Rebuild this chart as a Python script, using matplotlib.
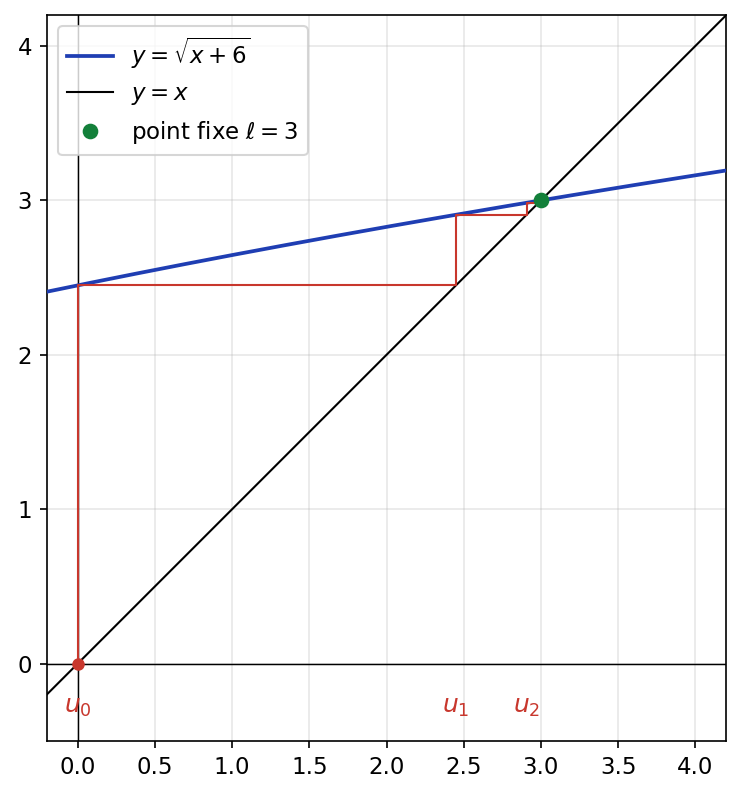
import numpy as np
import matplotlib
matplotlib.use("Agg")
import matplotlib.pyplot as plt

# Terms of the sequence u_{n+1} = sqrt(u_n + 6), u_0 = 0
u_values = [0.0, 2.449, 2.907, 2.984, 2.997]
u_labels = ["$u_0$", "$u_1$", "$u_2$"]
fixed_point = 3.0
x_range = [-0.2, 4.2]
y_range = [-0.5, 4.2]

fig = plt.figure(figsize=(741/150, 797/150), dpi=150)
ax = fig.add_axes([46/741, 1-741/797, (727-46)/741, (741-15)/797])

xs = np.linspace(x_range[0], x_range[1], 400)
ax.plot(xs, np.sqrt(xs + 6), color="#1f3eb3", lw=1.8, label=r"$y=\sqrt{x+6}$", zorder=3)
ax.plot(xs, xs, color="black", lw=1.0, label=r"$y=x$", zorder=3)

ax.axhline(0, color="black", lw=0.7, zorder=2)
ax.axvline(0, color="black", lw=0.7, zorder=2)

red = "#c8372d"
px, py = [u_values[0]], [0.0]
for i in range(len(u_values) - 1):
    px += [u_values[i], u_values[i + 1]]
    py += [u_values[i + 1], u_values[i + 1]]
ax.plot(px, py, color=red, lw=1.0, zorder=4)
ax.plot([u_values[0]], [0], "o", color=red, ms=5, zorder=5)

for lab, u in zip(u_labels, u_values):
    ax.text(u, -0.28, lab, color=red, ha="center", va="center", fontsize=12)

ax.plot([fixed_point], [fixed_point], "o", color="#13803a", ms=6.5, zorder=6,
        label=r"point fixe $\ell=3$")

ax.set_xlim(*x_range)
ax.set_ylim(*y_range)
ax.set_aspect("equal")
ax.set_xticks(np.arange(0, 4.01, 0.5))
ax.set_yticks([0, 1, 2, 3, 4])
ax.grid(True, alpha=0.3)
ax.tick_params(labelsize=11)
ax.legend(loc="upper left", fontsize=11)

fig.savefig("out.png", dpi=150)
